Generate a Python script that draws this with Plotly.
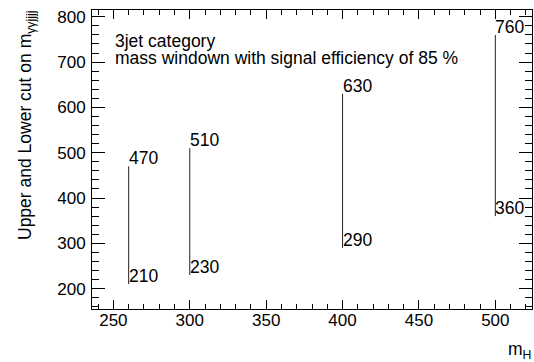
import plotly.graph_objects as go

mass_points = [260, 300, 400, 500]
lower_cut = [210, 230, 290, 360]
upper_cut = [470, 510, 630, 760]
x_tick_vals = [250, 300, 350, 400, 450, 500]
y_tick_vals = [200, 300, 400, 500, 600, 700, 800]

FONT = "Liberation Sans, Arial, Helvetica, sans-serif"
TXT = 17.5

fig = go.Figure()

xs, ys = [], []
for m, lo, hi in zip(mass_points, lower_cut, upper_cut):
    xs += [m, m, None]
    ys += [lo, hi, None]
fig.add_trace(go.Scatter(x=xs, y=ys, mode="lines",
                         line=dict(color="#222222", width=1),
                         hoverinfo="skip", showlegend=False))

for m, lo, hi in zip(mass_points, lower_cut, upper_cut):
    for v in (lo, hi):
        fig.add_annotation(x=m, y=v, xref="x", yref="y", text=str(v),
                           showarrow=False, xanchor="left", yanchor="bottom",
                           borderpad=0, xshift=-1, yshift=-3,
                           font=dict(family=FONT, size=TXT, color="black"))

fig.update_layout(
    width=534, height=362,
    margin=dict(l=92, r=2, t=10, b=53, autoexpand=False),
    paper_bgcolor="white", plot_bgcolor="white",
    font=dict(family=FONT, size=TXT, color="black"),
    showlegend=False,
)
fig.add_annotation(x=250.2, y=722, xref="x", yref="y", xanchor="left", yanchor="bottom",
                   text="3jet category", showarrow=False, borderpad=0,
                   font=dict(family=FONT, size=TXT, color="black"))
fig.add_annotation(x=250.2, y=685.5, xref="x", yref="y", xanchor="left", yanchor="bottom",
                   text="mass windown with signal efficiency of 85 %", showarrow=False, borderpad=0,
                   font=dict(family=FONT, size=TXT, color="black"))

fig.update_xaxes(range=[236, 524], tickvals=x_tick_vals, ticks="inside", ticklen=9,
                 tickwidth=1, tickcolor="black", showgrid=False, zeroline=False,
                 showline=True, linecolor="black", linewidth=1, mirror="allticks",
                 minor=dict(dtick=10, tick0=0, ticks="inside", ticklen=5, tickcolor="black", showgrid=False),
                 tickfont=dict(family=FONT, size=17), ticklabelstandoff=-4)
fig.update_yaxes(range=[155, 815], tickvals=y_tick_vals, ticks="inside", ticklen=13,
                 tickwidth=1, tickcolor="black", showgrid=False, zeroline=False,
                 showline=True, linecolor="black", linewidth=1, mirror="allticks",
                 minor=dict(dtick=20, tick0=0, ticks="inside", ticklen=7, tickcolor="black", showgrid=False),
                 tickfont=dict(family=FONT, size=17), ticklabelstandoff=2)

fig.add_annotation(x=(532 - 92) / 440, y=-(338 - 309) / 299, xref="paper", yref="paper",
                   showarrow=False, text="m<sub>H</sub>", borderpad=0,
                   xanchor="right", yanchor="top",
                   font=dict(family=FONT, size=TXT, color="black"))
fig.add_annotation(x=(27 - 92) / 440, y=1 - (126 - 10) / 299, xref="paper", yref="paper",
                   xanchor="center", yanchor="middle",
                   text="Upper and Lower cut on m<sub>γγjjjj</sub>", showarrow=False, textangle=-90,
                   borderpad=0, font=dict(family=FONT, size=TXT, color="black"))

fig.write_html("out.html", config={"displayModeBar": False},
               post_script="document.body.style.margin='0';document.body.style.padding='0';")
